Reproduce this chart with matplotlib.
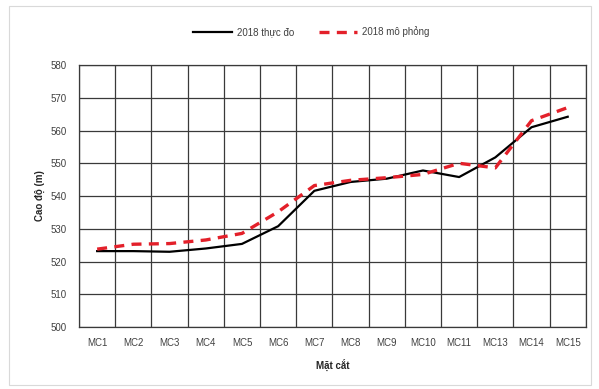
import matplotlib
matplotlib.use("Agg")
import matplotlib.pyplot as plt
from matplotlib.patches import Rectangle
import numpy as np

categories = ["MC1", "MC2", "MC3", "MC4", "MC5", "MC6", "MC7", "MC8",
              "MC9", "MC10", "MC11", "MC13", "MC14", "MC15"]
measured_2018 = [523.2, 523.2, 523.0, 524.0, 525.4, 530.8, 541.6, 544.3,
                 545.3, 547.8, 545.8, 551.8, 561.0, 564.2]
simulated_2018 = [523.8, 525.3, 525.5, 526.6, 528.6, 535.2, 543.2, 544.8,
                  545.6, 546.6, 550.0, 548.6, 563.0, 567.0]
y_ticks = list(range(500, 581, 10))

plt.rcParams['font.family'] = ['Liberation Sans', 'DejaVu Sans']

fig = plt.figure(figsize=(5.99, 3.89), dpi=100)
fig.patch.set_facecolor("white")
fig.add_artist(Rectangle((0.015, 0.01), 0.972, 0.975, transform=fig.transFigure,
                         fill=False, edgecolor="#d9d9d9", linewidth=0.8))

ax = fig.add_axes([0.132, 0.159, 0.846, 0.674])
x = np.arange(len(categories))

ax.plot(x, measured_2018, color="black", linewidth=1.6, label="2018 thực đo")
ax.plot(x, simulated_2018, color="#e3202a", linewidth=2.4, linestyle=(0, (3, 2.2)),
        label="2018 mô phỏng")

ax.set_xlim(-0.5, len(categories) - 0.5)
ax.set_ylim(500, 580)
ax.set_yticks(y_ticks)
ax.set_xticks(x)
ax.set_xticklabels(categories, fontsize=7, color="#404040")
ax.set_xticks(np.arange(-0.5, len(categories), 1), minor=True)
ax.tick_params(axis="y", labelsize=7, labelcolor="#404040", length=0, pad=9)
ax.tick_params(axis="x", which="both", length=0, pad=8)
ax.grid(True, axis="y", color="#3a3a3a", linewidth=0.9)
ax.grid(True, axis="x", which="minor", color="#3a3a3a", linewidth=0.9)
ax.set_axisbelow(True)
for s in ax.spines.values():
    s.set_color("#3a3a3a")
    s.set_linewidth(0.9)

ax.set_xlabel("Mặt cắt", fontsize=7, fontweight="bold", color="#262626", labelpad=8)
ax.set_ylabel("Cao độ (m)", fontsize=7, fontweight="bold", color="#262626", labelpad=4)

fig.legend(loc="upper center", bbox_to_anchor=(0.52, 0.955), ncol=2, frameon=False,
           fontsize=7, handlelength=4.0, columnspacing=2.5, handletextpad=0.5,
           labelcolor="#404040")

fig.savefig("out.png", dpi=100, facecolor="white")
